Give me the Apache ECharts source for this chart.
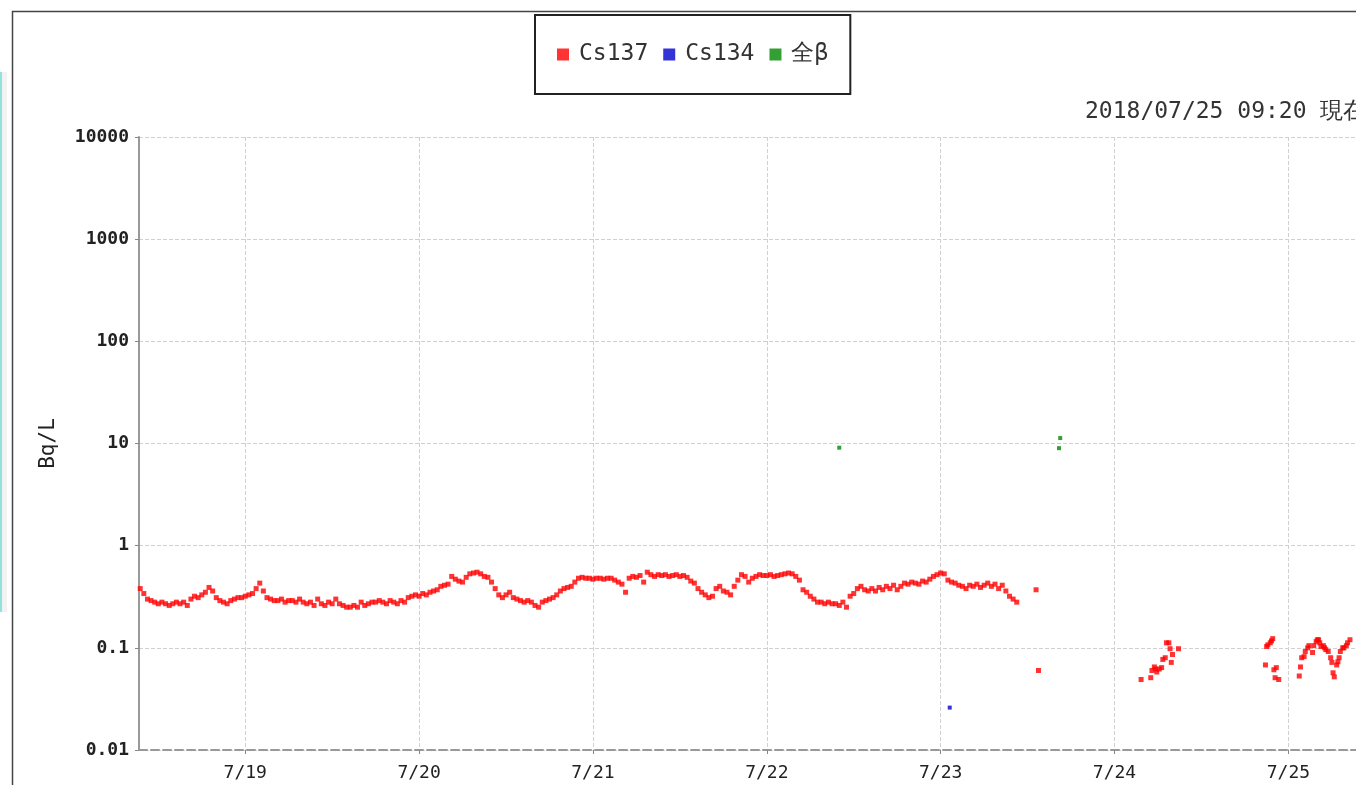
<!DOCTYPE html>
<html>
<head>
<meta charset="utf-8">
<script src="https://cdn.jsdelivr.net/npm/echarts/dist/echarts.min.js"></script>
<style>
html, body { margin: 0; padding: 0; background: #fff; }
#chart { width: 1356px; height: 785px; }
</style>
</head>
<body>
<div id="chart"></div>
<script>
// Cs137: continuous run, one value every 30 min from 7/18 09:30
var cs137Start = '2018-07-18 09:30';
var cs137StepMin = 30;
var cs137Vals = [
	0.38, 0.34, 0.30, 0.29, 0.28, 0.27, 0.28, 0.27, 0.26, 0.27, 0.28, 0.27,
	0.28, 0.26, 0.30, 0.32, 0.31, 0.33, 0.35, 0.39, 0.36, 0.31, 0.29, 0.28,
	0.27, 0.29, 0.30, 0.31, 0.31, 0.32, 0.33, 0.34, 0.38, 0.43, 0.36, 0.31,
	0.30, 0.29, 0.29, 0.30, 0.28, 0.29, 0.29, 0.28, 0.30, 0.28, 0.27, 0.28,
	0.26, 0.30, 0.27, 0.26, 0.28, 0.27, 0.30, 0.27, 0.26, 0.25, 0.25, 0.26,
	0.25, 0.28, 0.26, 0.27, 0.28, 0.28, 0.29, 0.28, 0.27, 0.29, 0.28, 0.27,
	0.29, 0.28, 0.31, 0.32, 0.33, 0.32, 0.34, 0.33, 0.35, 0.36, 0.37, 0.40,
	0.41, 0.42, 0.50, 0.47, 0.45, 0.44, 0.49, 0.53, 0.54, 0.55, 0.53, 0.50,
	0.49, 0.44, 0.38, 0.33, 0.31, 0.33, 0.35, 0.31, 0.30, 0.29, 0.28, 0.29,
	0.28, 0.26, 0.25, 0.28, 0.29, 0.30, 0.31, 0.33, 0.36, 0.38, 0.39, 0.40,
	0.44, 0.48, 0.49, 0.48, 0.48, 0.47, 0.48, 0.48, 0.47, 0.48, 0.48, 0.46,
	0.44, 0.42, 0.35, 0.48, 0.50, 0.49, 0.51, 0.44, 0.55, 0.52, 0.50, 0.52,
	0.51, 0.52, 0.50, 0.51, 0.52, 0.50, 0.51, 0.49, 0.45, 0.43, 0.38, 0.35,
	0.33, 0.31, 0.32, 0.38, 0.40, 0.36, 0.35, 0.33, 0.40, 0.46, 0.52, 0.50,
	0.44, 0.48, 0.50, 0.52, 0.51, 0.51, 0.52, 0.50, 0.51, 0.52, 0.53, 0.54,
	0.53, 0.50, 0.46, 0.37, 0.35, 0.32, 0.30, 0.28, 0.28, 0.27, 0.28, 0.27,
	0.27, 0.26, 0.28, 0.25, 0.32, 0.34, 0.38, 0.40, 0.37, 0.36, 0.38, 0.36,
	0.39, 0.37, 0.40, 0.38, 0.41, 0.37, 0.40, 0.43, 0.42, 0.44, 0.43, 0.42,
	0.45, 0.44, 0.47, 0.50, 0.52, 0.54, 0.53, 0.46, 0.44, 0.43, 0.41, 0.40,
	0.38, 0.41, 0.40, 0.42, 0.39, 0.41, 0.43, 0.40, 0.42, 0.38, 0.41, 0.36,
	0.32, 0.30, 0.28
];

// Cs137: scattered readings after the gap
var cs137LateTimes = [
	'2018-07-23 13:10', '2018-07-23 13:30',
	'2018-07-24 03:40', '2018-07-24 05:00', '2018-07-24 05:10', '2018-07-24 05:30',
	'2018-07-24 05:40', '2018-07-24 05:50', '2018-07-24 06:10', '2018-07-24 06:30',
	'2018-07-24 06:40', '2018-07-24 07:00', '2018-07-24 07:10', '2018-07-24 07:30',
	'2018-07-24 07:40', '2018-07-24 07:50', '2018-07-24 08:00', '2018-07-24 08:50',
	'2018-07-24 20:50', '2018-07-24 21:00', '2018-07-24 21:10', '2018-07-24 21:30',
	'2018-07-24 21:40', '2018-07-24 21:50', '2018-07-24 22:00', '2018-07-24 22:10',
	'2018-07-24 22:20', '2018-07-24 22:40',
	'2018-07-25 01:30', '2018-07-25 01:40', '2018-07-25 01:50', '2018-07-25 02:10',
	'2018-07-25 02:20', '2018-07-25 02:40', '2018-07-25 02:50', '2018-07-25 03:20',
	'2018-07-25 03:30', '2018-07-25 03:50', '2018-07-25 04:00', '2018-07-25 04:10',
	'2018-07-25 04:20', '2018-07-25 04:30', '2018-07-25 04:50', '2018-07-25 05:00',
	'2018-07-25 05:10', '2018-07-25 05:30', '2018-07-25 05:50', '2018-07-25 06:00',
	'2018-07-25 06:10', '2018-07-25 06:20', '2018-07-25 06:40', '2018-07-25 06:50',
	'2018-07-25 07:00', '2018-07-25 07:10', '2018-07-25 07:30', '2018-07-25 07:40',
	'2018-07-25 08:00', '2018-07-25 08:10', '2018-07-25 08:30'
];
var cs137LateVals = [
	0.37, 0.060,
	0.049, 0.051, 0.060, 0.065,
	0.062, 0.058, 0.062, 0.064,
	0.077, 0.080, 0.112, 0.112,
	0.098, 0.072, 0.086, 0.098,
	0.068, 0.103, 0.107, 0.112,
	0.117, 0.123, 0.061, 0.051,
	0.064, 0.049,
	0.053, 0.065, 0.080, 0.082,
	0.092, 0.100, 0.105, 0.090,
	0.105, 0.115, 0.120, 0.120,
	0.112, 0.103, 0.105, 0.100,
	0.096, 0.092, 0.080, 0.072,
	0.057, 0.052, 0.068, 0.073,
	0.080, 0.092, 0.100, 0.100,
	0.105, 0.112, 0.120
];

var cs134Times = ['2018-07-23 01:15'];
var cs134Vals = [0.026];

var betaTimes = ['2018-07-22 10:00', '2018-07-23 16:20', '2018-07-23 16:30'];
var betaVals = [9.1, 9.0, 11.3];

var yTicks = [0.01, 0.1, 1, 10, 100, 1000, 10000];
var stampText = '2018/07/25 09:20 現在';

function toMs(s) {
	return new Date(s.replace(' ', 'T') + ':00').getTime();
}
function pairs(times, vals) {
	return vals.map(function (v, i) { return [toMs(times[i]), v]; });
}

var cs137Data = [];
var t0 = toMs(cs137Start);
cs137Vals.forEach(function (v, i) {
	cs137Data.push([t0 + i * cs137StepMin * 60000, v]);
});
cs137Data = cs137Data.concat(pairs(cs137LateTimes, cs137LateVals));

var mono = 'DejaVu Sans Mono';
var myChart = echarts.init(document.getElementById('chart'));
myChart.setOption({
	animation: false,
	backgroundColor: '#fff',
	title: {
		text: stampText,
		left: 1085,
		top: 101,
		padding: 0,
		textStyle: { fontFamily: mono, fontSize: 23, fontWeight: 'normal', color: '#333' }
	},
	legend: {
		left: 535,
		top: 15,
		padding: [28, 22, 28, 22],
		borderColor: '#222',
		borderWidth: 2,
		itemGap: 15,
		itemWidth: 12,
		itemHeight: 12,
		icon: 'rect',
		textStyle: { fontFamily: mono, fontSize: 23, color: '#333', padding: [0, 0, 0, 5] },
		data: ['Cs137', 'Cs134', '全β']
	},
	graphic: [
		{ type: 'rect', left: 0, top: 72, shape: { width: 2, height: 540 }, style: { fill: '#8fe3da' } },
		{ type: 'rect', left: 2, top: 72, shape: { width: 5, height: 540 }, style: { fill: '#f2f2f2' } },
		{ type: 'rect', left: 10, top: 9, shape: { width: 1400, height: 800 }, style: { fill: 'none', stroke: '#444', lineWidth: 1.5 } }
	],
	grid: { left: 139, top: 137, right: -3, bottom: 35 },
	xAxis: {
		type: 'time',
		min: toMs('2018-07-18 09:20'),
		max: toMs('2018-07-25 09:20'),
		minInterval: 86400000,
		maxInterval: 86400000,
		axisLine: { lineStyle: { color: '#999', width: 2, type: 'dashed' } },
		axisTick: { show: true, length: 4, lineStyle: { color: '#888' } },
		axisLabel: {
			fontFamily: mono, fontSize: 18, color: '#222', margin: 14,
			showMinLabel: false, showMaxLabel: false,
			formatter: function (v) {
				var d = new Date(v);
				return (d.getMonth() + 1) + '/' + d.getDate();
			}
		},
		splitLine: { show: true, lineStyle: { color: '#d0d0d0', type: 'dashed' } }
	},
	yAxis: {
		type: 'log',
		logBase: 10,
		min: yTicks[0],
		max: yTicks[yTicks.length - 1],
		splitNumber: 6,
		name: 'Bq/L',
		nameLocation: 'middle',
		nameGap: 80,
		nameRotate: 90,
		nameTextStyle: { fontFamily: mono, fontSize: 21, color: '#222' },
		axisLine: { show: true, lineStyle: { color: '#999', width: 2 } },
		axisTick: { show: true, length: 4, lineStyle: { color: '#888' } },
		axisLabel: {
			fontFamily: mono, fontSize: 18, fontWeight: 'bold', color: '#222', margin: 10,
			formatter: function (v) {
				return v >= 1 ? String(Math.round(v)) : String(parseFloat(v.toPrecision(1)));
			}
		},
		splitLine: { show: true, lineStyle: { color: '#d0d0d0', type: 'dashed' } }
	},
	series: [
		{
			name: 'Cs137', type: 'scatter', symbol: 'rect', symbolSize: 5,
			itemStyle: { color: '#ff0000' },
			data: cs137Data
		},
		{
			name: 'Cs134', type: 'scatter', symbol: 'rect', symbolSize: 4,
			itemStyle: { color: '#0000cc' },
			data: pairs(cs134Times, cs134Vals)
		},
		{
			name: '全β', type: 'scatter', symbol: 'rect', symbolSize: 4,
			itemStyle: { color: '#008800' },
			data: pairs(betaTimes, betaVals)
		}
	]
});
window.addEventListener('resize', function () {
	myChart.resize();
});
</script>
</body>
</html>
